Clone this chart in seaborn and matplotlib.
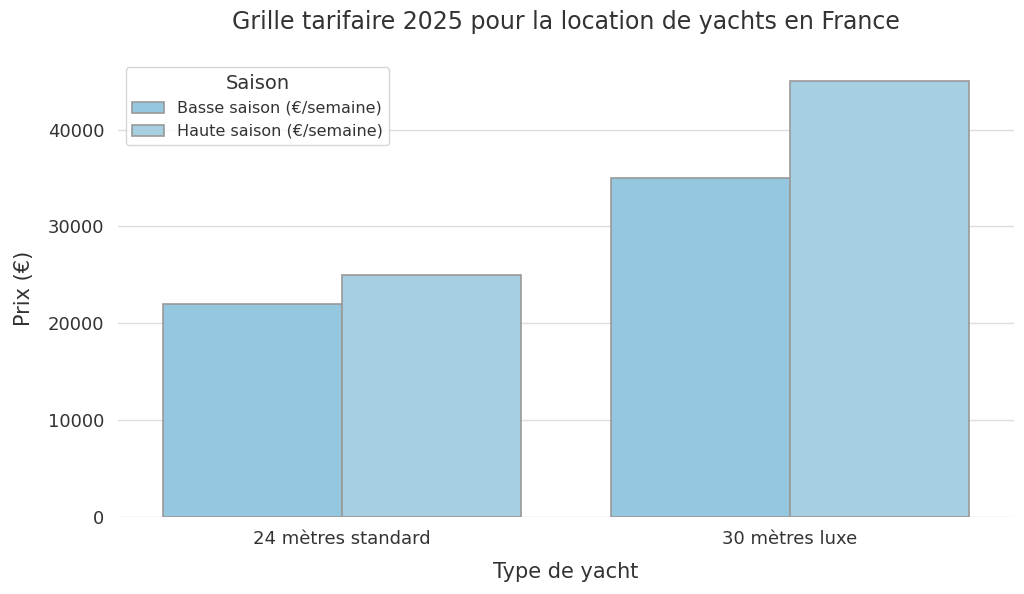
import pandas as pd
import matplotlib.pyplot as plt
import seaborn as sns

# Data
yacht_types = ['24 mètres standard', '30 mètres luxe']
basse_saison = [22000, 35000]
haute_saison = [25000, 45000]
saisons = ['Basse saison (€/semaine)', 'Haute saison (€/semaine)']
couleurs = ['#95c7de', '#a7cfe2']

df = pd.DataFrame({
    'Type de yacht': yacht_types * 2,
    'Saison': [saisons[0]] * 2 + [saisons[1]] * 2,
    'Prix': basse_saison + haute_saison,
})

sns.set_theme(style='whitegrid')
plt.rcParams['font.family'] = ['DejaVu Sans']

fig, ax = plt.subplots(figsize=(10.24, 5.94), dpi=100)
sns.barplot(data=df, x='Type de yacht', y='Prix', hue='Saison',
            palette=couleurs, saturation=1, edgecolor='#999999',
            linewidth=1.2, ax=ax)

ax.set_ylim(0, max(haute_saison) * 1.05)
ax.set_title('Grille tarifaire 2025 pour la location de yachts en France',
             fontsize=17, color='#333333', pad=22)
ax.set_xlabel('Type de yacht', fontsize=15, color='#333333', labelpad=10)
ax.set_ylabel('Prix (€)', fontsize=15, color='#333333', labelpad=10)
ax.tick_params(axis='both', labelsize=13, colors='#333333')
ax.grid(axis='x', visible=False)
ax.grid(axis='y', color='#dddddd')
sns.despine(left=True, bottom=True)

leg = ax.legend(title='Saison', fontsize=11.5, title_fontsize=14, loc='upper left')
for t in leg.get_texts():
    t.set_color('#333333')
leg.get_title().set_color('#333333')

plt.subplots_adjust(left=0.115, right=0.99, top=0.9, bottom=0.13)
plt.savefig('out.png', dpi=100)
